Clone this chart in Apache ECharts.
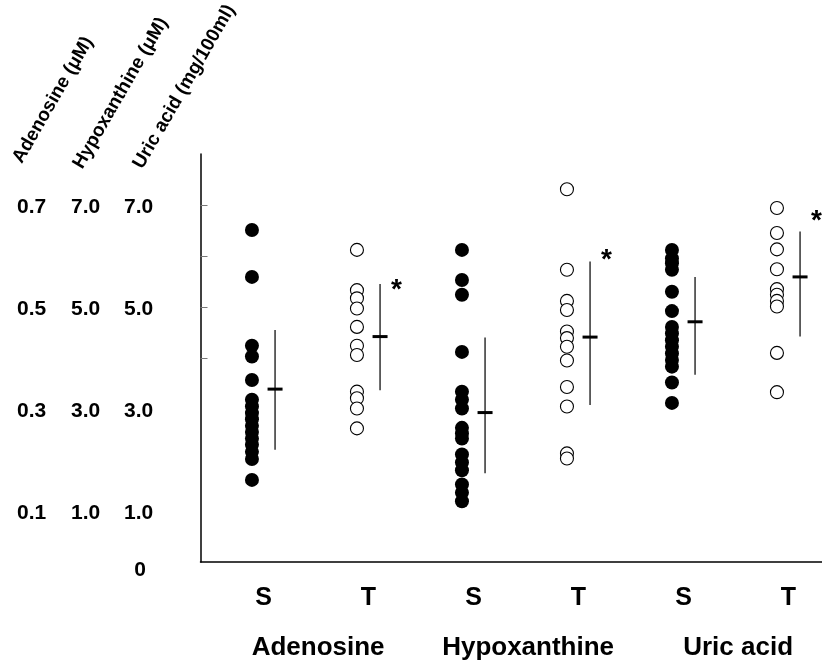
<!DOCTYPE html>
<html>
<head>
<meta charset="utf-8">
<script src="https://cdn.jsdelivr.net/npm/echarts@6/dist/echarts.min.js"></script>
<style>html,body{margin:0;padding:0;background:#fff}#c{width:822px;height:661px}</style>
</head>
<body>
<div id="c"></div>
<script>
// ---- data ----
const groups = ['Adenosine', 'Hypoxanthine', 'Uric acid'];
const columnLabels = ['S', 'T', 'S', 'T', 'S', 'T'];
const axisTitles = ['Adenosine (\u03bcM)', 'Hypoxanthine (\u03bcM)', 'Uric acid (mg/100ml)'];

const adenosineS = [6.51, 5.59, 4.24, 4.03, 3.57, 3.18, 3.05, 2.92, 2.80, 2.67, 2.55, 2.42, 2.30, 2.16, 2.02, 1.61];
const adenosineT = [6.12, 5.33, 5.17, 4.97, 4.61, 4.24, 4.06, 3.34, 3.21, 3.01, 2.62];
const hypoxanthineS = [6.12, 5.53, 5.24, 4.12, 3.34, 3.18, 3.01, 2.63, 2.52, 2.42, 2.11, 1.95, 1.80, 1.52, 1.36, 1.19];
const hypoxanthineT = [7.31, 5.73, 5.12, 4.94, 4.52, 4.39, 4.22, 3.95, 3.43, 3.05, 2.13, 2.03];
const uricS = [6.12, 5.95, 5.86, 5.73, 5.30, 4.92, 4.61, 4.48, 4.35, 4.22, 4.09, 3.96, 3.83, 3.52, 3.12];
const uricT = [6.94, 6.45, 6.13, 5.74, 5.35, 5.24, 5.12, 5.01, 4.10, 3.33];

const means = [3.39, 4.42, 2.93, 4.41, 4.71, 5.59];
const upperSD = [4.55, 5.45, 4.40, 5.89, 5.59, 6.48];
const lowerSD = [2.20, 3.37, 1.74, 3.08, 3.67, 4.42];

const starColumns = [1, 3, 5];
const starLevels = [5.43, 6.02, 6.77];

const yLabelValues = [1, 3, 5, 7];
const adenosineTickLabels = ['0.1', '0.3', '0.5', '0.7'];
const hypoxanthineTickLabels = ['1.0', '3.0', '5.0', '7.0'];
const uricTickLabels = ['1.0', '3.0', '5.0', '7.0'];
const yMinorTicks = [4, 5, 6, 7];

// ---- layout constants ----
const FONT = '"Liberation Sans", Arial, sans-serif';
const DOT_OFF = 0.49, LINE_OFF = 0.22, STAR_OFF = 0.155, LABEL_OFF = 0.60;
const X_MAX = 621.5 / 105;

const columns = [adenosineS, adenosineT, hypoxanthineS, hypoxanthineT, uricS, uricT];

const series = [];
columns.forEach((vals, i) => {
  const filled = columnLabels[i] === 'S';
  series.push({
    type: 'scatter',
    data: vals.map(v => [i + DOT_OFF, v]),
    symbol: 'circle',
    symbolSize: filled ? 14 : 13,
    itemStyle: filled ? { color: '#000', opacity: 1 } : { color: '#fff', borderColor: '#000', borderWidth: 1.1, opacity: 1 },
    silent: true,
    z: 3
  });
});

series.push({
  type: 'custom',
  data: means.map((m, i) => [i, lowerSD[i], upperSD[i], m]),
  renderItem: function (params, api) {
    const x = api.value(0) + DOT_OFF + LINE_OFF;
    const top = api.coord([x, api.value(2)]);
    const bot = api.coord([x, api.value(1)]);
    const mid = api.coord([x, api.value(3)]);
    return {
      type: 'group',
      children: [
        { type: 'line', shape: { x1: top[0], y1: top[1], x2: bot[0], y2: bot[1] }, style: { stroke: '#111', lineWidth: 1.3 } },
        { type: 'line', shape: { x1: mid[0] - 7.5, y1: mid[1], x2: mid[0] + 7.5, y2: mid[1] }, style: { stroke: '#000', lineWidth: 3 } }
      ]
    };
  },
  z: 4
});

series.push({
  type: 'custom',
  data: starColumns.map((c, i) => [c, starLevels[i]]),
  renderItem: function (params, api) {
    const p = api.coord([api.value(0) + DOT_OFF + LINE_OFF + STAR_OFF, api.value(1)]);
    return {
      type: 'text',
      x: p[0], y: p[1] + 5,
      style: { text: '*', font: 'bold 28px ' + FONT, fill: '#000', align: 'center', verticalAlign: 'middle', textAlign: 'center', textVerticalAlign: 'middle' }
    };
  },
  z: 5
});

const titleAnchors = [[25.5, 166.5], [86, 172], [146, 172]];

const option = {
  animation: false,
  backgroundColor: '#fff',
  grid: { left: 200.5, right: 0, top: 154, bottom: 99, containLabel: false, outerBoundsMode: 'none' },
  xAxis: [
    {
      type: 'value', min: 0, max: X_MAX, position: 'bottom',
      axisLine: { show: true, onZero: false, lineStyle: { color: '#000', width: 1.5 } },
      axisTick: { show: false },
      splitLine: { show: false },
      axisLabel: {
        customValues: columnLabels.map((_, i) => i + LABEL_OFF),
        formatter: v => columnLabels[Math.floor(v)] || '',
        margin: 24, fontSize: 25, fontWeight: 'bold', fontFamily: FONT, color: '#000'
      }
    },
    {
      type: 'value', min: 0, max: X_MAX, position: 'bottom',
      axisLine: { show: false, onZero: false },
      axisTick: { show: false },
      splitLine: { show: false },
      axisLabel: {
        customValues: groups.map((_, g) => 2 * g + 1.12),
        formatter: v => groups[Math.floor(v / 2)] || '',
        margin: 73, fontSize: 26, fontWeight: 'bold', fontFamily: FONT, color: '#000'
      }
    }
  ],
  yAxis: {
    type: 'value', min: 0, max: 8, interval: 1,
    axisLine: { show: true, onZero: false, lineStyle: { color: '#000', width: 1.5 } },
    axisTick: { show: true, inside: true, length: 7, customValues: yMinorTicks, lineStyle: { color: '#777', width: 1 } },
    splitLine: { show: false },
    axisLabel: {
      customValues: [0].concat(yLabelValues),
      margin: 45.5,
      fontSize: 21, fontWeight: 'bold', fontFamily: FONT, color: '#000',
      formatter: function (v) {
        if (v === 0) return '{zp|}{z|0}';
        const k = yLabelValues.indexOf(v);
        if (k < 0) return '';
        return '{a|' + adenosineTickLabels[k] + '}{b|' + hypoxanthineTickLabels[k] + '}{c|' + uricTickLabels[k] + '}';
      },
      rich: {
        a: { width: 54, align: 'left', fontSize: 21, fontWeight: 'bold', fontFamily: FONT, color: '#000', padding: [5, 0, 0, 0] },
        b: { width: 53, align: 'left', fontSize: 21, fontWeight: 'bold', fontFamily: FONT, color: '#000', padding: [5, 0, 0, 0] },
        c: { width: 31, align: 'left', fontSize: 21, fontWeight: 'bold', fontFamily: FONT, color: '#000', padding: [5, 0, 0, 0] },
        zp: { width: 108, fontSize: 21 },
        z: { width: 30, align: 'left', fontSize: 21, fontWeight: 'bold', fontFamily: FONT, color: '#000', padding: [16, 0, 0, 0] }
      }
    }
  },
  graphic: axisTitles.map((t, i) => ({
    type: 'text',
    x: titleAnchors[i][0], y: titleAnchors[i][1],
    rotation: Math.PI / 3,
    style: { text: t, font: 'bold 19px ' + FONT, fill: '#000', align: 'left', verticalAlign: 'bottom', textAlign: 'left', textVerticalAlign: 'bottom' }
  })),
  series: series
};

echarts.init(document.getElementById('c'), null, { renderer: 'canvas' }).setOption(option);
</script>
</body>
</html>
